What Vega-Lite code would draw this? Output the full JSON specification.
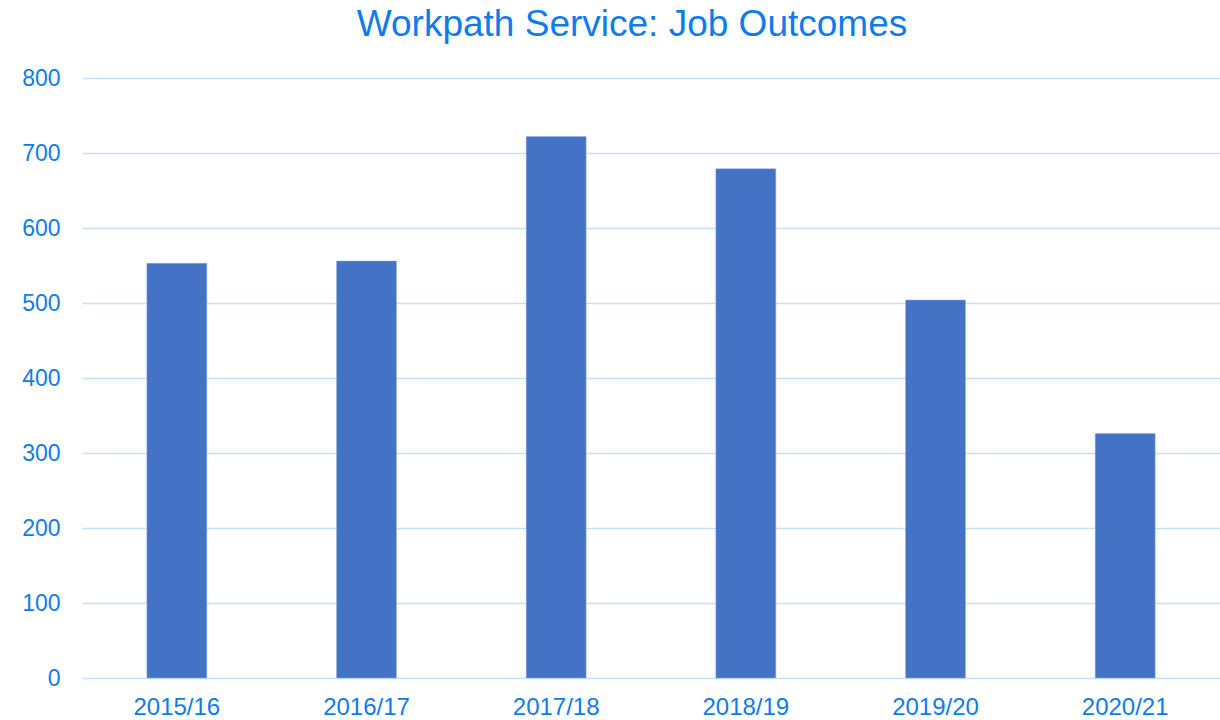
{
  "$schema": "https://vega.github.io/schema/vega-lite/v6.json",
  "autosize": {"type": "none"},
  "width": 1138,
  "height": 600,
  "padding": {"left": 82, "top": 78, "right": 0, "bottom": 42},
  "background": "white",
  "title": {
    "text": "Workpath Service: Job Outcomes",
    "font": "Liberation Sans",
    "fontSize": 37,
    "fontWeight": "normal",
    "color": "#0e7cef",
    "anchor": "middle",
    "baseline": "alphabetic",
    "offset": 4,
    "dx": -19,
    "dy": 10
  },
  "data": {
    "values": [
      {"year": "2015/16", "outcomes": 553},
      {"year": "2016/17", "outcomes": 556},
      {"year": "2017/18", "outcomes": 722},
      {"year": "2018/19", "outcomes": 679},
      {"year": "2019/20", "outcomes": 504},
      {"year": "2020/21", "outcomes": 326}
    ]
  },
  "mark": {"type": "bar", "color": "#4472c4", "stroke": "#8fb0e8", "strokeWidth": 0.5},
  "encoding": {
    "x": {
      "field": "year",
      "type": "nominal",
      "sort": null,
      "scale": {"paddingInner": 0.684, "paddingOuter": 0.342},
      "axis": {
        "title": null,
        "labelAngle": 0,
        "labelFont": "Liberation Sans",
        "labelFontSize": 24,
        "labelColor": "#0e7cef",
        "labelPadding": 17,
        "ticks": false,
        "domain": false,
        "grid": false
      }
    },
    "y": {
      "field": "outcomes",
      "type": "quantitative",
      "scale": {"domain": [0, 800], "nice": false},
      "axis": {
        "title": null,
        "values": [0, 100, 200, 300, 400, 500, 600, 700, 800],
        "labelFont": "Liberation Sans",
        "labelFontSize": 23,
        "labelColor": "#0e7cef",
        "labelPadding": 22,
        "ticks": false,
        "domain": false,
        "grid": true,
        "gridColor": "#c6e0f8",
        "gridWidth": 1.5
      }
    }
  },
  "config": {"view": {"stroke": null}}
}
